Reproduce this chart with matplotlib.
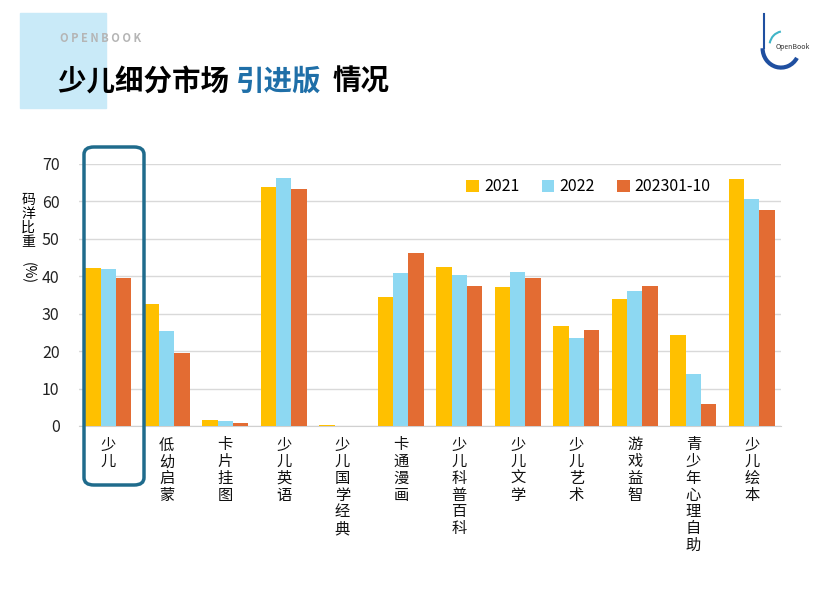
import numpy as np
import matplotlib.pyplot as plt
from matplotlib.patches import FancyBboxPatch, Rectangle, Arc

plt.rcParams['font.family'] = ['Noto Sans CJK SC', 'DejaVu Sans']

categories = ['少儿', '低幼启蒙', '卡片挂图', '少儿英语', '少儿国学经典', '卡通漫画',
              '少儿科普百科', '少儿文学', '少儿艺术', '游戏益智', '青少年心理自助', '少儿绘本']
series_names = ['2021', '2022', '202301-10']
v2021 = [42.3, 32.7, 1.6, 63.9, 0.3, 34.5, 42.5, 37.2, 26.8, 33.9, 24.3, 66.0]
v2022 = [41.9, 25.4, 1.3, 66.3, 0.0, 40.8, 40.3, 41.1, 23.5, 36.1, 13.9, 60.6]
v2023 = [39.4, 19.6, 0.8, 63.4, 0.0, 46.2, 37.5, 39.6, 25.6, 37.5, 5.9, 57.7]
colors = ['#FFC000', '#8DD8F2', '#E36C33']

fig = plt.figure(figsize=(8.26, 6.14), dpi=100)
ax = fig.add_axes([0.0956, 0.3062, 0.85, 0.4268])

x = np.arange(len(categories))
w = 0.26
for i, vals in enumerate([v2021, v2022, v2023]):
    ax.bar(x + (i - 1) * w, vals, width=w, color=colors[i], label=series_names[i], zorder=3)

ax.set_xlim(-0.5, len(categories) - 0.5)
ax.set_ylim(0, 70)
ax.set_yticks(range(0, 71, 10))
ax.tick_params(axis='y', length=0, labelsize=11.5, pad=14, labelcolor='#222222')
ax.set_xticks([])
ax.grid(axis='y', color='#d9d9d9', lw=1, zorder=0)
for s in ['top', 'right', 'left']:
    ax.spines[s].set_visible(False)
ax.spines['bottom'].set_color('#d0d0d0')

# vertical category labels
for xi, name in zip(x, categories):
    ax.text(xi, -0.04, '\n'.join(name), transform=ax.get_xaxis_transform(),
            ha='center', va='top', fontsize=11, linespacing=0.98, color='#111111')

leg = ax.legend(loc='upper right', bbox_to_anchor=(0.92, 1.0), ncol=3, frameon=False,
                fontsize=11.5, handlelength=0.8, handleheight=0.8, handletextpad=0.3,
                columnspacing=1.4)

# y label
fig.text(0.034, 0.64, '码\n洋\n比\n重', ha='center', va='center', fontsize=10, linespacing=1.0)
fig.text(0.034, 0.555, '(%)', ha='center', va='center', fontsize=10, rotation=-90)

# highlight box around first category
fig.patches.append(FancyBboxPatch((84 / 826, 1 - 485 / 614), 60 / 826, 338 / 614,
                                  boxstyle='round,pad=0,rounding_size=0.012',
                                  transform=fig.transFigure, fill=False,
                                  edgecolor='#1F6B8C', lw=2.5, zorder=5))

# header
fig.patches.append(Rectangle((20 / 826, 1 - 108 / 614), 86 / 826, 95 / 614,
                             transform=fig.transFigure, color='#C9EAF8', zorder=0))
fig.text(60 / 826, 1 - 38 / 614, 'O P E N B O O K', fontsize=8, color='#b5b5b5',
         va='center', fontweight='bold')
title_y = 1 - 82 / 614
t1 = fig.text(58 / 826, title_y, '少儿细分市场 ', fontsize=20.5, fontweight='bold', va='center')
fig.canvas.draw()
bb = t1.get_window_extent()
t2 = fig.text(bb.x1 / 826, title_y, '引进版', fontsize=20.5, fontweight='bold', va='center',
              color='#1F6FA8')
fig.canvas.draw()
bb2 = t2.get_window_extent()
fig.text(bb2.x1 / 826 + 0.014, title_y, '情况', fontsize=20.5, fontweight='bold', va='center')

# small logo
lax = fig.add_axes([758 / 826, 1 - 70 / 614, 46 / 826, 58 / 614])
lax.axis('off')
lax.set_xlim(0, 1)
lax.set_ylim(0, 1.2)
lax.plot([0.12, 0.12], [0.45, 1.15], color='#1F4FA0', lw=1.5)
lax.add_patch(Arc((0.5, 0.45), 0.8, 0.8, theta1=180, theta2=330, color='#1F4FA0', lw=3))
lax.add_patch(Arc((0.55, 0.5), 0.6, 0.6, theta1=100, theta2=170, color='#40B5C8', lw=1.5))
lax.text(0.75, 0.48, 'OpenBook', fontsize=5, ha='center', va='center', color='#333333')

fig.savefig('out.png', dpi=100)
